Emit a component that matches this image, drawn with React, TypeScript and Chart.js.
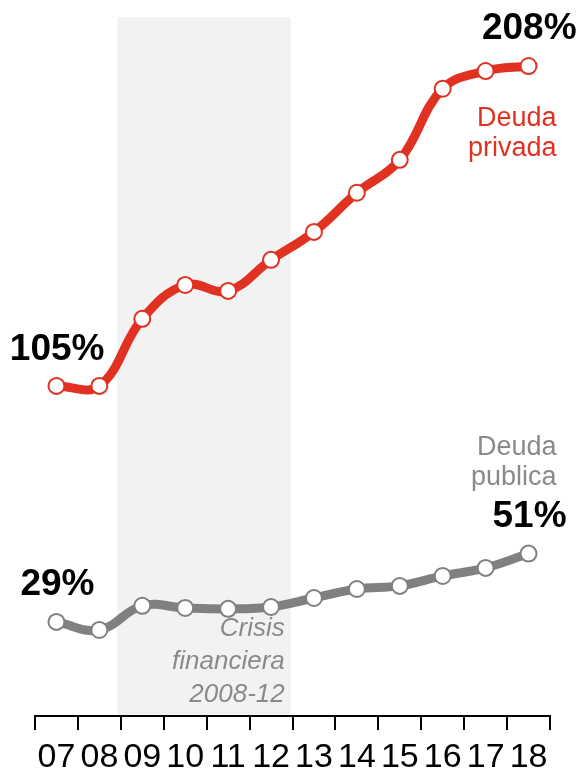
import React, { useEffect, useRef } from "react";
import { Chart, registerables } from "chart.js";

Chart.register(...registerables);

const years = ["07", "08", "09", "10", "11", "12", "13", "14", "15", "16", "17", "18"];
const privada = [105, 105, 126.6, 137.5, 135.6, 145.6, 154.6, 167.2, 177.8, 200.7, 206.4, 208];
const publica = [29, 26.4, 34.2, 33.5, 33.2, 33.8, 36.7, 39.6, 40.6, 43.8, 46.4, 51];
const crisisStart = 1.42; // between 08 and 09
const crisisEnd = 5.46; // between 12 and 13

const RED = "#e03121";
const GRAY = "#808080";
const TEXT_GRAY = "#8a8a8a";
const FONT = "'Liberation Sans', Arial, Helvetica, sans-serif";

const decorPlugin = {
  id: "decor",
  beforeDraw(chart: any) {
    const { ctx, chartArea, scales } = chart;
    const x = scales.x;
    const x0 = x.getPixelForValue(crisisStart);
    const x1 = x.getPixelForValue(crisisEnd);
    ctx.save();
    ctx.fillStyle = "#f2f2f2";
    ctx.fillRect(x0, chartArea.top, x1 - x0, chartArea.bottom - chartArea.top);
    ctx.restore();
  },
  afterDraw(chart: any) {
    const { ctx, scales } = chart;
    const x = scales.x;
    const y = scales.y;
    const last = years.length - 1;
    const px0 = x.getPixelForValue(0);
    const pxL = x.getPixelForValue(last);
    ctx.save();
    ctx.textAlign = "right";
    ctx.textBaseline = "alphabetic";
    // bold value labels
    ctx.fillStyle = "#000";
    ctx.font = `bold 37px ${FONT}`;
    ctx.fillText(`${privada[0]}%`, px0 + 48, y.getPixelForValue(privada[0]) - 26);
    ctx.fillText(`${privada[last]}%`, pxL + 48, y.getPixelForValue(privada[last]) - 27);
    ctx.fillText(`${publica[0]}%`, px0 + 38, y.getPixelForValue(publica[0]) - 27);
    ctx.fillText(`${publica[last]}%`, pxL + 38, y.getPixelForValue(publica[last]) - 27);
    // series names
    ctx.font = `27px ${FONT}`;
    ctx.fillStyle = RED;
    const yr = y.getPixelForValue(privada[last]);
    ctx.fillText("Deuda", pxL + 28, yr + 60);
    ctx.fillText("privada", pxL + 28, yr + 90);
    ctx.fillStyle = TEXT_GRAY;
    const yg = y.getPixelForValue(publica[last]);
    ctx.fillText("Deuda", pxL + 28, yg - 99);
    ctx.fillText("publica", pxL + 28, yg - 69);
    // crisis label
    ctx.font = `italic 26px ${FONT}`;
    const xe = x.getPixelForValue(crisisEnd) - 6;
    const yb = y.getPixelForValue(publica[0]);
    ctx.fillText("Crisis", xe, yb + 14);
    ctx.fillText("financiera", xe, yb + 47);
    ctx.fillText("2008-12", xe, yb + 80);
    ctx.restore();
  },
};

export default function App() {
  const ref = useRef<HTMLCanvasElement>(null);
  useEffect(() => {
    if (!ref.current) return;
    const chart = new Chart(ref.current, {
      type: "line",
      data: {
        labels: years,
        datasets: [
          {
            data: privada,
            borderColor: RED,
            borderWidth: 9,
            tension: 0.4,
            pointRadius: 8,
            pointBorderWidth: 2,
            pointBackgroundColor: "#fff",
            pointBorderColor: RED,
            clip: false as any,
          },
          {
            data: publica,
            borderColor: GRAY,
            borderWidth: 9,
            tension: 0.4,
            pointRadius: 8,
            pointBorderWidth: 2,
            pointBackgroundColor: "#fff",
            pointBorderColor: GRAY,
            clip: false as any,
          },
        ],
      },
      options: {
        responsive: false,
        animation: false,
        layout: { padding: { top: 17, left: 35, right: 29, bottom: 0 } },
        plugins: { legend: { display: false }, tooltip: { enabled: false } },
        scales: {
          y: { display: false, min: -1.3, max: 223.8 },
          x: {
            offset: true,
            afterFit(scale: any) {
              scale.height = 56;
            },
            grid: {
              display: true,
              offset: true,
              drawOnChartArea: false,
              drawTicks: true,
              tickLength: 14,
              color: "#000",
              lineWidth: 2,
            },
            border: { display: true, color: "#000", width: 2 },
            ticks: {
              color: "#000",
              padding: 11,
              font: { family: FONT, size: 34, lineHeight: 1 },
              maxRotation: 0,
              autoSkip: false,
            },
          },
        },
      },
      plugins: [decorPlugin],
    });
    return () => chart.destroy();
  }, []);
  return (
    <div style={{ position: "absolute", left: 0, top: 0, width: 579, height: 772 }}>
      <canvas ref={ref} width={579} height={772} />
    </div>
  );
}
